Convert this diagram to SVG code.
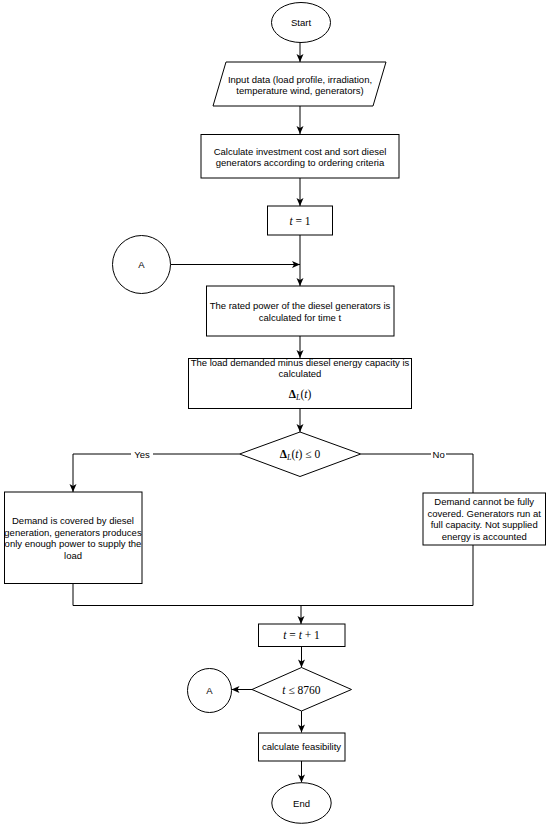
<svg xmlns="http://www.w3.org/2000/svg" width="550" height="831" viewBox="0 0 550 831">
<defs>
<marker id="arr" markerUnits="userSpaceOnUse" markerWidth="10" markerHeight="10" viewBox="0 0 10 10" refX="9" refY="5" orient="auto">
<path d="M1,1.5 L9,5 L1,8.5 L3,5 z" fill="#000"/>
</marker>
<style>
.s{fill:#fff;stroke:#000;stroke-width:1}
.t{font-family:"Liberation Sans",Arial,sans-serif;font-size:9.5px;fill:#000;text-anchor:middle}
.m{font-family:"Liberation Serif","Times New Roman",serif;font-size:11.5px;fill:#000;text-anchor:middle}
.d{font-weight:bold}
.c{fill:none;stroke:#000;stroke-width:1}
.lb{fill:#fff}
</style>
</defs>
<rect width="550" height="831" fill="#fff"/>
<g id="connectors">
<path class="c" d="M300,42 V62" marker-end="url(#arr)"/>
<path class="c" d="M300,106 V134" marker-end="url(#arr)"/>
<path class="c" d="M300,178 V206" marker-end="url(#arr)"/>
<path class="c" d="M300,235 V286" marker-end="url(#arr)"/>
<path class="c" d="M170.5,264.5 H300" marker-end="url(#arr)"/>
<path class="c" d="M300,336 V358" marker-end="url(#arr)"/>
<path class="c" d="M300,408 V432" marker-end="url(#arr)"/>
<path class="c" d="M239.6,454 H73 V492" marker-end="url(#arr)"/>
<path class="c" d="M360.7,454 H473 V493"/>
<path class="c" d="M73,583.5 V605.5 H473 V545"/>
<path class="c" d="M301,605.5 V624" marker-end="url(#arr)"/>
<path class="c" d="M301.5,646.5 V667.5" marker-end="url(#arr)"/>
<path class="c" d="M252,689.5 H231.5" marker-end="url(#arr)"/>
<path class="c" d="M301.5,711 V732.5" marker-end="url(#arr)"/>
<path class="c" d="M301.5,761 V782.5" marker-end="url(#arr)"/>
<rect class="lb" x="131" y="448" width="22" height="12"/>
<text class="t" x="142" y="457.5">Yes</text>
<rect class="lb" x="431" y="448" width="15" height="12"/>
<text class="t" x="438.6" y="457.5">No</text>
</g>
<g id="start">
<ellipse class="s" cx="301" cy="22.5" rx="29.5" ry="20"/>
<text class="t" x="301" y="26">Start</text>
</g>
<g id="input">
<polygon class="s" points="226,62 386,62 373,106 213,106"/>
<text class="t" x="300" y="82.7">Input data (load profile, irradiation,</text>
<text class="t" x="300" y="94">temperature wind, generators)</text>
</g>
<g id="calc-invest">
<rect class="s" x="201" y="134.5" width="198" height="43.5"/>
<text class="t" x="300" y="154.5">Calculate investment cost and sort diesel</text>
<text class="t" x="300" y="166">generators according to ordering criteria</text>
</g>
<g id="t1">
<rect class="s" x="267.5" y="206" width="65" height="29"/>
<text class="m" x="300" y="224.5"><tspan font-style="italic">t</tspan> = 1</text>
</g>
<g id="connA-top">
<circle class="s" cx="141.5" cy="264.5" r="29"/>
<text class="t" x="141.5" y="268">A</text>
</g>
<g id="rated">
<rect class="s" x="206.5" y="286" width="187.5" height="50"/>
<text class="t" x="300" y="309">The rated power of the diesel generators is</text>
<text class="t" x="300" y="320.5">calculated for time t</text>
</g>
<g id="delta-calc">
<rect class="s" x="188.5" y="358.5" width="223" height="50"/>
<text class="t" x="300" y="366">The load demanded minus diesel energy capacity is</text>
<text class="t" x="300" y="377.3">calculated</text>
<text class="m" x="300" y="398"><tspan class="d">Δ</tspan><tspan font-size="8" font-style="italic" dy="2">L</tspan><tspan dy="-2">(</tspan><tspan font-style="italic">t</tspan>)</text>
</g>
<g id="decision1">
<polygon class="s" points="300,432 360.7,454 300,476.5 239.6,454"/>
<text class="m" x="300" y="458"><tspan class="d">Δ</tspan><tspan font-size="8" font-style="italic" dy="2">L</tspan><tspan dy="-2">(</tspan><tspan font-style="italic">t</tspan>) ≤ 0</text>
</g>
<g id="covered">
<rect class="s" x="4.5" y="492" width="137.5" height="91.5"/>
<text class="t" x="73" y="524.4">Demand is covered by diesel</text>
<text class="t" x="73" y="535.9">generation, generators produces</text>
<text class="t" x="73" y="547.4">only enough power to supply the</text>
<text class="t" x="73" y="558.9">load</text>
</g>
<g id="not-covered">
<rect class="s" x="423" y="493" width="122.5" height="52"/>
<text class="t" x="484.2" y="504.9">Demand cannot be fully</text>
<text class="t" x="484.2" y="516.6">covered. Generators run at</text>
<text class="t" x="484.2" y="528.3">full capacity. Not supplied</text>
<text class="t" x="484.2" y="540">energy is accounted</text>
</g>
<g id="t-inc">
<rect class="s" x="258.5" y="624" width="86.5" height="22.5"/>
<text class="m" x="301.5" y="639"><tspan font-style="italic">t</tspan> = <tspan font-style="italic">t</tspan> + 1</text>
</g>
<g id="decision2">
<polygon class="s" points="301.5,667.5 351.5,689.5 301.5,711 252,689.5"/>
<text class="m" x="301.5" y="693.5"><tspan font-style="italic">t</tspan> ≤ 8760</text>
</g>
<g id="connA-bottom">
<circle class="s" cx="209.5" cy="690.5" r="22"/>
<text class="t" x="209.5" y="694">A</text>
</g>
<g id="feasibility">
<rect class="s" x="258.5" y="733" width="86.5" height="28"/>
<text class="t" x="301.5" y="750.4">calculate feasibility</text>
</g>
<g id="end">
<ellipse class="s" cx="301.5" cy="803" rx="29.7" ry="20.3"/>
<text class="t" x="301.5" y="806.5">End</text>
</g>
</svg>
